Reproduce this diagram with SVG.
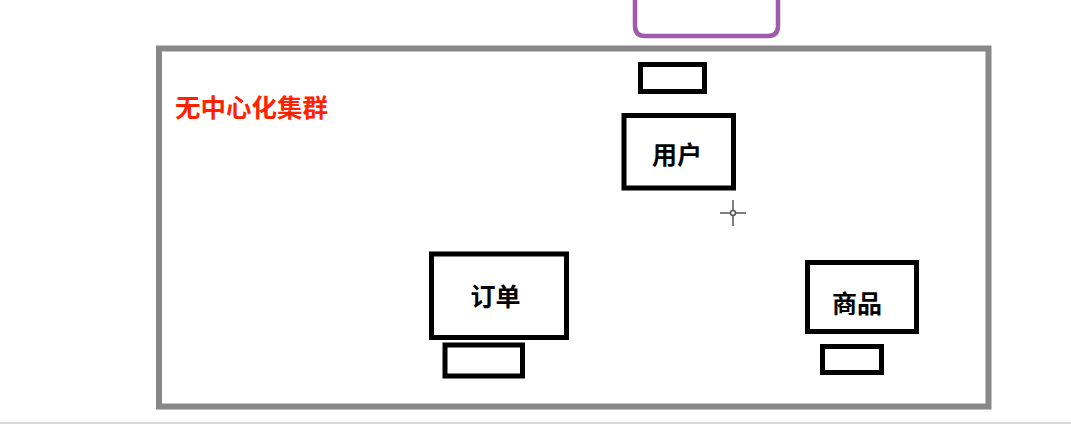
<svg xmlns="http://www.w3.org/2000/svg" width="1071" height="425" viewBox="0 0 1071 425">
<style>
.box{fill:#fff;stroke:#000;stroke-width:5}
.lbl{font-family:"Noto Sans CJK SC","Noto Sans",sans-serif;font-weight:bold;font-size:25px;fill:#000;text-anchor:middle;dominant-baseline:central}
</style>
<rect width="1071" height="425" fill="#fff"/>
<line x1="0" y1="423" x2="1071" y2="423" stroke="#c8c8c8" stroke-width="1.5"/>
<path d="M635 0 V26 Q635 36 645 36 H768 Q778 36 778 26 V0" fill="none" stroke="#a05aab" stroke-width="4.5"/>
<g id="cluster">
<rect x="159" y="48.5" width="829.5" height="358" fill="none" stroke="#888" stroke-width="6"/>
<text x="175" y="105.5" font-family="'Noto Sans CJK SC',sans-serif" font-weight="bold" font-size="25" fill="#ff2200" dominant-baseline="central" textLength="153" lengthAdjust="spacingAndGlyphs">无中心化集群</text>
</g>
<g id="user">
<rect class="box" x="640.5" y="64.5" width="64" height="27"/>
<rect class="box" x="624" y="115.5" width="109.5" height="72.5"/>
<text class="lbl" x="677" y="152.5">用户</text>
</g>
<g id="order">
<rect class="box" x="431.5" y="254" width="135" height="83.5"/>
<rect class="box" x="445" y="345" width="77.5" height="31"/>
<text class="lbl" x="495.5" y="294.5">订单</text>
</g>
<g id="goods">
<rect class="box" x="807.5" y="262.5" width="109" height="69"/>
<rect class="box" x="822.5" y="346.5" width="59" height="26"/>
<text class="lbl" x="857" y="301.5">商品</text>
</g>
<g id="cursor" stroke="#555" stroke-width="1.5" fill="none">
<line x1="720" y1="213" x2="746" y2="213"/>
<line x1="733" y1="200" x2="733" y2="226"/>
<circle cx="733" cy="213" r="2.5" fill="#fff"/>
</g>
<g id="connectors"></g>
</svg>
